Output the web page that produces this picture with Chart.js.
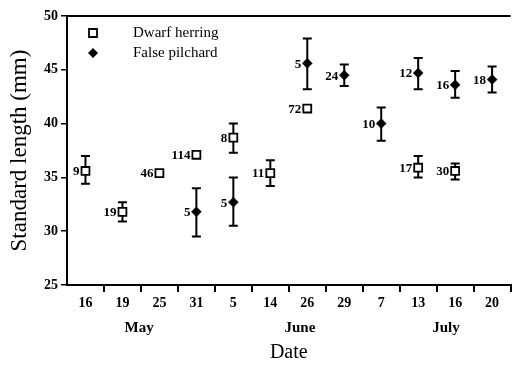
<!DOCTYPE html>
<html>
<head>
<meta charset="utf-8">
<script src="https://cdn.jsdelivr.net/npm/chart.js@4.4.1/dist/chart.umd.min.js"></script>
<style>
  html, body { margin: 0; padding: 0; background: #fff; overflow: hidden; }
  #wrap { width: 518px; height: 365px; position: relative; }
</style>
</head>
<body>
<div id="wrap"><canvas id="c"></canvas></div>
<script>
// ---- data ----
const categories = ['16', '19', '25', '31', '5', '14', '26', '29', '7', '13', '16', '20'];
const herringMean = [35.6, 31.8, 35.4, 37.1, 38.7, 35.4, 41.4, null, null, 35.9, 35.6, null];
const herringLow  = [34.4, 30.9, null, null, 37.3, 34.2, null, null, null, 35.0, 34.8, null];
const herringHigh = [37.0, 32.7, null, null, 40.0, 36.6, null, null, null, 37.0, 36.3, null];
const herringN    = [9, 19, 46, 114, 8, 11, 72, null, null, 17, 30, null];
const pilchardMean = [null, null, null, 31.8, 32.7, null, 45.6, 44.5, 40.0, 44.7, 43.6, 44.1];
const pilchardLow  = [null, null, null, 29.5, 30.5, null, 43.2, 43.5, 38.4, 43.2, 42.4, 42.9];
const pilchardHigh = [null, null, null, 34.0, 35.0, null, 47.9, 45.5, 41.5, 46.1, 44.9, 45.3];
const pilchardN    = [null, null, null, 5, 5, null, 5, 24, 10, 12, 16, 18];
const months = ['May', 'June', 'July'];
const monthPos = [1.45, 5.8, 9.75];
const yTicks = [25, 30, 35, 40, 45, 50];

const SERIF = "'Liberation Serif', 'Times New Roman', serif";

const errorBars = {
  id: 'errorBars',
  beforeDatasetsDraw(chart) {
    const {ctx, scales: {x, y}} = chart;
    const sets = [[herringLow, herringHigh], [pilchardLow, pilchardHigh]];
    ctx.save();
    ctx.strokeStyle = '#000';
    ctx.lineWidth = 2;
    sets.forEach(([lo, hi]) => {
      lo.forEach((l, i) => {
        const h = hi[i];
        if (l == null || h == null) return;
        const px = x.getPixelForValue(i);
        const y1 = y.getPixelForValue(l), y2 = y.getPixelForValue(h);
        ctx.beginPath();
        ctx.moveTo(px, y1); ctx.lineTo(px, y2);
        ctx.moveTo(px - 4.5, y1); ctx.lineTo(px + 4.5, y1);
        ctx.moveTo(px - 4.5, y2); ctx.lineTo(px + 4.5, y2);
        ctx.stroke();
      });
    });
    ctx.restore();
  },
  afterDatasetsDraw(chart) {
    const {ctx, scales: {x, y}, chartArea} = chart;
    ctx.save();
    ctx.fillStyle = '#000';
    ctx.font = 'bold 13px ' + SERIF;
    ctx.textAlign = 'right';
    ctx.textBaseline = 'middle';
    herringMean.forEach((v, i) => {
      if (v == null || herringN[i] == null) return;
      ctx.fillText(String(herringN[i]), x.getPixelForValue(i) - 6, y.getPixelForValue(v) + 1);
    });
    pilchardMean.forEach((v, i) => {
      if (v == null || pilchardN[i] == null) return;
      ctx.fillText(String(pilchardN[i]), x.getPixelForValue(i) - 6, y.getPixelForValue(v) + 1);
    });
    // top frame line
    ctx.strokeStyle = '#000';
    ctx.lineWidth = 2;
    ctx.beginPath();
    ctx.moveTo(chartArea.left, chartArea.top);
    ctx.lineTo(chartArea.right, chartArea.top);
    ctx.stroke();
    // month labels
    ctx.font = 'bold 15px ' + SERIF;
    ctx.textAlign = 'center';
    months.forEach((m, i) => {
      ctx.fillText(m, x.getPixelForValue(monthPos[i]), 328);
    });
    // legend
    const lx = 93, ly1 = 33, ly2 = 53;
    ctx.lineWidth = 1.8;
    ctx.fillStyle = '#fff';
    ctx.beginPath(); ctx.rect(lx - 4, ly1 - 4, 8, 8); ctx.fill(); ctx.stroke();
    ctx.fillStyle = '#000';
    ctx.beginPath();
    ctx.moveTo(lx, ly2 - 5); ctx.lineTo(lx + 5, ly2); ctx.lineTo(lx, ly2 + 5); ctx.lineTo(lx - 5, ly2);
    ctx.closePath(); ctx.fill();
    ctx.font = '15px ' + SERIF;
    ctx.textAlign = 'left';
    ctx.fillText('Dwarf herring', 133, ly1);
    ctx.fillText('False pilchard', 133, ly2);
    ctx.restore();
  }
};

new Chart(document.getElementById('c'), {
  type: 'line',
  data: {
    labels: categories,
    datasets: [
      {
        label: 'Dwarf herring',
        data: herringMean,
        showLine: false,
        pointStyle: 'rect',
        pointRadius: 5.6,
        pointBorderWidth: 1.8,
        pointBackgroundColor: '#fff',
        pointBorderColor: '#000'
      },
      {
        label: 'False pilchard',
        data: pilchardMean,
        showLine: false,
        pointStyle: 'rectRot',
        pointRadius: 5,
        pointBorderWidth: 0.5,
        pointBackgroundColor: '#000',
        pointBorderColor: '#000'
      }
    ]
  },
  options: {
    responsive: true,
    maintainAspectRatio: false,
    animation: false,
    layout: { padding: { top: 16, right: 1, left: 0, bottom: 0 } },
    plugins: { legend: { display: false }, tooltip: { enabled: false } },
    scales: {
      x: {
        type: 'category',
        offset: true,
        afterFit(scale) { scale.height = 80; },
        grid: {
          offset: true,
          drawOnChartArea: false,
          tickLength: 7,
          lineWidth: 2,
          color: (c) => c.index === 0 ? 'rgba(0,0,0,0)' : '#000'
        },
        border: { display: true, color: '#000', width: 2 },
        ticks: {
          color: '#000',
          padding: 3,
          maxRotation: 0,
          autoSkip: false,
          font: { family: SERIF, size: 14, weight: 'bold' }
        },
        title: {
          display: true,
          text: 'Date',
          color: '#000',
          padding: { top: 0, bottom: 0 },
          font: { family: SERIF, size: 20 }
        }
      },
      y: {
        min: 25,
        max: 50,
        afterFit(scale) { scale.width = 67; },
        afterBuildTicks(scale) { scale.ticks = yTicks.map(v => ({ value: v })); },
        grid: {
          drawOnChartArea: false,
          tickLength: 6,
          lineWidth: 1.5,
          color: '#000'
        },
        border: { display: true, color: '#000', width: 2 },
        ticks: {
          color: '#000',
          padding: 3,
          font: { family: SERIF, size: 14, weight: 'bold' }
        },
        title: {
          display: true,
          text: 'Standard length (mm)',
          color: '#000',
          padding: { top: 6, bottom: 0 },
          font: { family: SERIF, size: 23 }
        }
      }
    }
  },
  plugins: [errorBars]
});
</script>
</body>
</html>
